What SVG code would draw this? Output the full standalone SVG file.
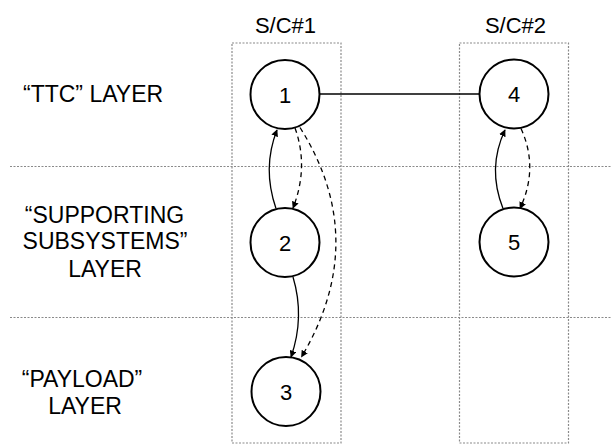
<svg xmlns="http://www.w3.org/2000/svg" width="612" height="444" viewBox="0 0 612 444">
  <style>
    text { font-family: "Liberation Sans", Arial, sans-serif; font-size: 22px; fill: #000; }
    .mid { text-anchor: middle; }
    .layer { font-size: 23px; }
    .grid { stroke: #8a8a8a; stroke-width: 1.2; stroke-dasharray: 2 1.5; fill: none; }
    .node circle { fill: #fff; stroke: #000; stroke-width: 2; }
    .link { fill: none; stroke: #000; stroke-width: 1.3; }
    .dash { stroke-dasharray: 5 4; }
  </style>
  <defs>
    <marker id="arrow" viewBox="0 0 10 10" refX="9" refY="5" markerWidth="7" markerHeight="7" markerUnits="userSpaceOnUse" orient="auto">
      <path d="M0,0 L10,5 L0,10 z" fill="#000"/>
    </marker>
  </defs>

  <rect width="612" height="444" fill="#fff"/>

  <!-- layer separators and spacecraft columns -->
  <g id="frame">
    <line class="grid" x1="10" y1="166.5" x2="612" y2="166.5"/>
    <line class="grid" x1="10" y1="317.5" x2="612" y2="317.5"/>
    <rect class="grid" x="232" y="43" width="109" height="400"/>
    <rect class="grid" x="459.5" y="43" width="109" height="400"/>
  </g>

  <!-- headings and layer names -->
  <g id="labels">
    <text class="mid" x="285.5" y="33">S/C#1</text>
    <text class="mid" x="515.5" y="33">S/C#2</text>
    <text class="layer" x="23" y="102">“TTC” LAYER</text>
    <text class="mid layer" x="104.5" y="223">“SUPPORTING</text>
    <text class="mid layer" x="105" y="249">SUBSYSTEMS”</text>
    <text class="mid layer" x="105" y="277">LAYER</text>
    <text class="mid layer" x="82" y="387">“PAYLOAD”</text>
    <text class="mid layer" x="85" y="413.5">LAYER</text>
  </g>

  <!-- connectors -->
  <g id="connectors">
    <line class="link" x1="319" y1="94" x2="480" y2="94"/>
    <path class="link" d="M276,208.5 Q262,168 277,130" marker-end="url(#arrow)"/>
    <path class="link dash" d="M295,128 Q309,167 293,208" marker-end="url(#arrow)"/>
    <path class="link dash" d="M300,127.5 Q371,240 301.5,357" marker-end="url(#arrow)"/>
    <path class="link" d="M293,277 Q305,317 291,357" marker-end="url(#arrow)"/>
    <path class="link" d="M503,208.5 Q487,168 505,130" marker-end="url(#arrow)"/>
    <path class="link dash" d="M521,128.5 Q539,168 520,208.5" marker-end="url(#arrow)"/>
  </g>

  <!-- nodes -->
  <g id="node1" class="node"><circle cx="285" cy="94.5" r="34.5"/><text class="mid" x="285" y="102.5">1</text></g>
  <g id="node2" class="node"><circle cx="285" cy="242.5" r="34.5"/><text class="mid" x="285" y="250.5">2</text></g>
  <g id="node3" class="node"><circle cx="286" cy="391.5" r="34.5"/><text class="mid" x="286" y="399.5">3</text></g>
  <g id="node4" class="node"><circle cx="514" cy="94" r="34.5"/><text class="mid" x="514" y="102">4</text></g>
  <g id="node5" class="node"><circle cx="514" cy="242" r="34.5"/><text class="mid" x="514" y="250">5</text></g>
</svg>
